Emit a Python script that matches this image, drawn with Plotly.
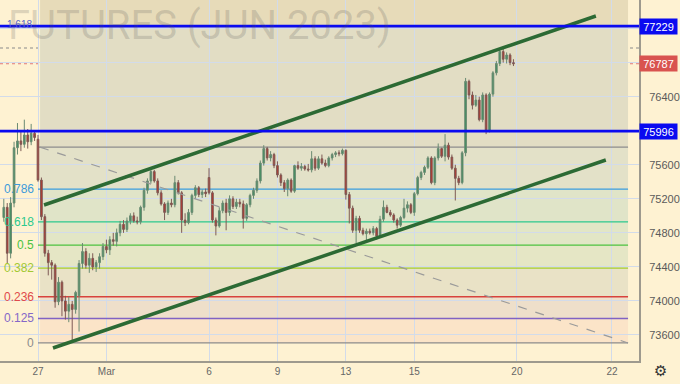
import plotly.graph_objects as go

# ---------------- data ----------------
day_index = [-1, 0, 1, 2, 3, 4, 5, 6, 7, 8, 9, 10, 11, 12, 13]
bars_per_day = 10

opens = [
74980,75100,74560,75150,75800,75880,75840,75950,75870,75970,
75900,75420,74990,74560,74450,74420,73990,74220,74000,73880,
73960,73900,74060,74440,74580,74420,74500,74400,74450,74520,
74640,74600,74720,74700,74800,74900,74840,74940,75000,74940,
74930,75100,75300,75410,75520,75410,75270,75140,75040,75150,
75130,75390,75270,74950,74920,75040,75240,75330,75250,75280,
75450,75270,74950,74880,75060,75150,75040,75200,75110,75160,
75140,74970,75130,75240,75300,75410,75620,75790,75680,75720,
75590,75480,75390,75320,75420,75290,75590,75560,75580,75550,
75540,75670,75560,75670,75620,75590,75680,75720,75740,75730,
75770,75250,75090,74830,74970,74830,74790,74820,74800,74850,
74760,74960,75100,75040,75010,74950,74890,74980,75090,75130,
75040,75260,75450,75510,75570,75680,75390,75680,75790,75700,
75830,75690,75560,75440,75390,75740,76580,76420,76300,76360,
76130,76420,76000,76430,76680,76790,76930,76840,76890,76800]

highs = [
75200,75150,75220,75870,76090,75990,76130,76020,76080,76000,
75950,75450,75020,74600,74480,74440,74280,74240,74060,74050,
74000,74120,74480,74680,74620,74560,74560,74480,74560,74680,
74720,74760,74800,74850,74940,74950,74980,75030,75040,74990,
75120,75330,75440,75560,75540,75440,75300,75160,75180,75200,
75470,75420,75290,75030,75080,75260,75360,75350,75310,75320,
75560,75290,74980,75100,75180,75200,75240,75230,75200,75200,
75180,75150,75260,75330,75440,75650,75830,75810,75760,75740,
75640,75500,75420,75440,75440,75600,75640,75620,75600,75610,
75760,75700,75700,75720,75660,75700,75740,75760,75770,75790,
75780,75280,75120,75000,75000,74860,74850,74850,74880,74870,
75000,75180,75130,75070,75030,74970,75000,75200,75170,75150,
75280,75470,75530,75590,75700,75700,75700,75850,75800,75960,
75860,75720,75600,75470,75760,76620,76600,76460,76420,76400,
76450,76440,76450,76700,76820,76960,76970,76920,76910,76840]

lows = [
74930,74440,74500,75100,75720,75760,75800,75790,75830,75880,
75400,74950,74520,74300,74250,73920,73950,73820,73780,73750,
73520,73850,73640,74380,74380,74330,74360,74340,74380,74480,
74560,74540,74650,74640,74760,74800,74810,74900,74920,74900,
74900,75060,75260,75380,75390,75240,75120,74950,75010,75100,
75100,75250,74800,74880,74900,75010,75200,75220,75210,75220,
75250,74920,74770,74860,75030,74830,75000,75080,75080,75100,
74850,74940,75100,75200,75270,75380,75590,75650,75640,75560,
75450,75350,75280,75230,75270,75270,75540,75530,75530,75520,
75510,75530,75540,75600,75570,75570,75650,75690,75700,75710,
75190,74910,74800,74680,74800,74770,74700,74780,74770,74720,
74740,74930,75030,74990,74920,74850,74870,74960,75040,75020,
75000,75240,75420,75480,75550,75370,75360,75650,75680,75640,
75660,75540,75180,75360,75370,75700,76370,76250,76280,76110,
76100,75960,75980,76400,76650,76760,76800,76790,76770,76760]

closes = [
75100,74560,75150,75800,75880,75840,75950,75870,75970,75920,
75420,74990,74560,74450,74420,73990,74220,74000,73880,73960,
73900,74100,74440,74580,74420,74500,74400,74450,74520,74640,
74600,74720,74700,74800,74900,74840,74940,75000,74940,74930,
75100,75300,75410,75520,75410,75270,75140,75040,75150,75130,
75390,75270,74950,74920,75040,75240,75330,75250,75280,75260,
75270,74950,74880,75060,75150,75040,75200,75110,75160,75140,
74970,75130,75240,75300,75410,75620,75790,75680,75720,75590,
75480,75390,75320,75420,75290,75590,75560,75580,75550,75540,
75670,75560,75670,75620,75590,75680,75720,75740,75730,75770,
75250,75090,74830,74970,74830,74790,74820,74800,74850,74760,
74960,75100,75040,75010,74950,74890,74980,75090,75130,75040,
75260,75450,75510,75570,75680,75390,75680,75790,75700,75830,
75690,75560,75440,75390,75740,76580,76420,76300,76360,76130,
76420,76000,76430,76680,76790,76930,76840,76890,76800,76787]

x_tick_pos = [0, 2, 5, 7, 9, 11, 14, 16.78]
x_tick_text = ["27", "Mar", "6", "9", "13", "15", "20", "22"]

y_tick_vals = [73600, 74000, 74400, 74800, 75200, 75600, 76000, 76400, 76800, 77200]
y_tick_text = ["73600", "74000", "74400", "74800", "75200", "75600", "", "76400", "", ""]

fib_low = 73506
fib_high = 75807
fib_levels = [0, 0.125, 0.236, 0.382, 0.5, 0.618, 0.786, 1, 1.618]
fib_labels = ["0", "0.125", "0.236", "0.382", "0.5", "0.618", "0.786", "", "1.618"]
fib_line_colors = ["#8c8c8c", "#8062c4", "#d8433c", "#a6cc2e", "#4cc23f", "#2dc98e",
                   "#3a9ddf", "#8c8c8c", "#0a0af0"]
fib_label_colors = ["#8c8c8c", "#8468c8", "#e04a4a", "#a2c832", "#4cc23f", "#2dc98e",
                    "#3d9bdb", "#8c8c8c", "#5a66c8"]
fib_band_colors = ["#fbe4c8", "#eedfca", "#e9e2c6", "#e5e6c5", "#e2e6c6", "#e0e4c8",
                   "#e3e1c8", "#e2ddc4"]
fib_top_band = "#e7dbb9"
fib_start, fib_end = 0.06, 17.25

level_blue = [77229, 75996]
last_price = 76787
session_high = 76972

upper_channel_x = [0.175, 16.31]
upper_channel_y = [75127, 77348]
lower_channel_x = [0.438, 16.60]
lower_channel_y = [73447, 75656]
diag_x = [fib_start, fib_end]
diag_y = [fib_high, fib_low]

# ---------------- figure ----------------
xs = [d + j / bars_per_day for d in day_index for j in range(bars_per_day)]

fig = go.Figure()

fig.add_trace(go.Candlestick(
    x=xs, open=opens, high=highs, low=lows, close=closes,
    increasing=dict(fillcolor="#3f8f5e", line=dict(color="#6a8a72", width=1)),
    decreasing=dict(fillcolor="#b8342a", line=dict(color="#7e5a55", width=1)),
    whiskerwidth=0, showlegend=False, hoverinfo="skip"))

fig.add_trace(go.Scatter(x=diag_x, y=diag_y, mode="lines",
                         line=dict(color="#9a9a9a", width=1.2, dash="dash"),
                         showlegend=False, hoverinfo="skip"))
for cx, cy in [(upper_channel_x, upper_channel_y), (lower_channel_x, lower_channel_y)]:
    fig.add_trace(go.Scatter(x=cx, y=cy, mode="lines",
                             line=dict(color="#2c6a34", width=3.5),
                             showlegend=False, hoverinfo="skip"))

fib_prices = [fib_low + lv * (fib_high - fib_low) for lv in fib_levels]

shapes = []
for i in range(len(fib_prices) - 1):
    shapes.append(dict(type="rect", xref="x", yref="y", x0=fib_start, x1=fib_end,
                       y0=fib_prices[i], y1=fib_prices[i + 1],
                       fillcolor=fib_band_colors[i], line=dict(width=0), layer="below"))
shapes.append(dict(type="rect", xref="x", yref="y", x0=fib_start, x1=fib_end,
                   y0=fib_prices[-1], y1=78000,
                   fillcolor=fib_top_band, line=dict(width=0), layer="below"))
for i, p in enumerate(fib_prices[:-1]):
    shapes.append(dict(type="line", xref="x", yref="y", x0=fib_start - 0.06, x1=fib_end,
                       y0=p, y1=p, line=dict(color=fib_line_colors[i], width=1.3),
                       layer="between"))
shapes.append(dict(type="line", xref="paper", yref="y", x0=0, x1=1,
                   y0=session_high, y1=session_high,
                   line=dict(color="#8a8a8a", width=1, dash="dot"), layer="between"))
shapes.append(dict(type="line", xref="paper", yref="y", x0=0, x1=1,
                   y0=last_price, y1=last_price,
                   line=dict(color="#e07a7a", width=1, dash="dot"), layer="between"))
for p in level_blue:
    shapes.append(dict(type="line", xref="paper", yref="y", x0=0, x1=1, y0=p, y1=p,
                       line=dict(color="#0a0af0", width=2.8), layer="above"))

annotations = []
annotations.append(dict(x=6 / 639, xref="paper", y=1 - 25 / 361, yref="paper",
                        xanchor="left", yanchor="middle", text="FUTURES (JUN 2023)",
                        showarrow=False,
                        font=dict(family="Roboto, Liberation Sans", size=40,
                                  color="rgba(80,80,80,0.2)")))
for i, p in enumerate(fib_prices):
    if not fib_labels[i]:
        continue
    annotations.append(dict(x=fib_start, xref="x", y=p, yref="y", xanchor="right",
                            yanchor="middle", xshift=-4 if i < 8 else -6,
                            yshift=0 if i < 8 else 2,
                            text=fib_labels[i], showarrow=False,
                            font=dict(family="Liberation Sans, Arial", size=12 if i < 8 else 10,
                                      color=fib_label_colors[i])))
for p, bg in [(level_blue[0], "#0a0af0"), (last_price, "#d9534f"), (level_blue[1], "#0a0af0")]:
    annotations.append(dict(x=1, xref="paper", y=p, yref="y", xanchor="left",
                            yanchor="middle", text=str(p), showarrow=False,
                            bgcolor=bg, width=35, height=13, borderpad=1,
                            font=dict(family="Liberation Sans, Arial", size=11, color="white")))
annotations.append(dict(x=660 / 639, xref="paper", y=-10 / 361, yref="paper",
                        xanchor="center", yanchor="middle", text="⚙", showarrow=False,
                        font=dict(family="DejaVu Sans", size=15, color="#333333")))

fig.update_layout(
    width=680, height=384,
    margin=dict(l=0, r=41, t=0, b=23),
    paper_bgcolor="#fef2d2", plot_bgcolor="#fef2d2",
    shapes=shapes, annotations=annotations,
    showlegend=False,
    xaxis=dict(range=[-1.111, 17.57], tickvals=x_tick_pos, ticktext=x_tick_text,
               showgrid=True, gridcolor="#d2dbea", gridwidth=1, zeroline=False,
               showline=True, linecolor="#9e9a8e", linewidth=2, ticks="",
               tickfont=dict(family="Liberation Sans, Arial", size=10, color="#666666"),
               rangeslider=dict(visible=False), fixedrange=True),
    yaxis=dict(range=[73294, 77536], side="right", tickvals=y_tick_vals, ticktext=y_tick_text,
               showgrid=True, gridcolor="#d2dbea", gridwidth=1, zeroline=False,
               showline=True, linecolor="#9e9a8e", linewidth=2, ticks="",
               ticklabelstandoff=6,
               tickfont=dict(family="Liberation Sans, Arial", size=11, color="#5a5a5a")),
)

fig.write_html("out.html")
